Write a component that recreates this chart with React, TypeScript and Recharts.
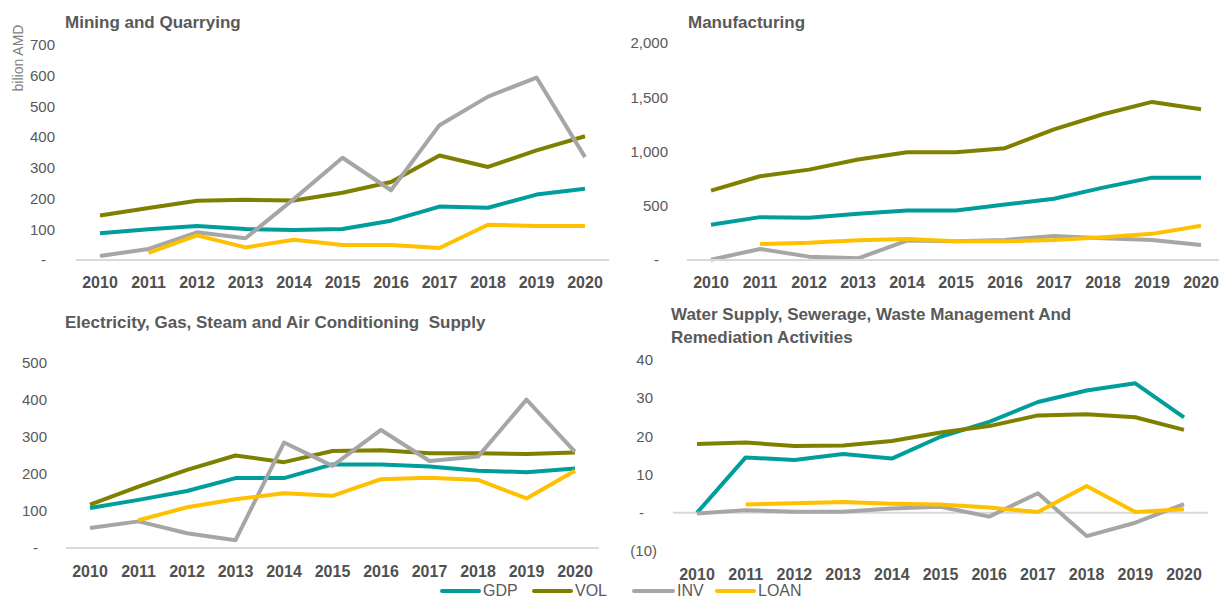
import { LineChart, Line, XAxis, YAxis, ReferenceLine } from "recharts";

// years shared by all four panels
const years = ["2010", "2011", "2012", "2013", "2014", "2015", "2016", "2017", "2018", "2019", "2020"];

// Mining and Quarrying
const miningGdp = [87, 100, 111, 101, 98, 101, 128, 174, 170, 213, 232];
const miningVol = [145, 169, 193, 196, 194, 219, 254, 340, 303, 357, 403];
const miningInv = [13, 36, 90, 71, 199, 333, 227, 439, 532, 594, 335];
const miningLoan = [null, 23, 80, 41, 66, 49, 49, 39, 115, 111, 111];

// Manufacturing
const manufGdp = [324, 395, 389, 426, 457, 457, 512, 565, 667, 759, 759];
const manufVol = [639, 772, 833, 926, 994, 994, 1031, 1204, 1343, 1457, 1389];
const manufInv = [3, 102, 31, 15, 179, 173, 185, 222, 200, 185, 139];
const manufLoan = [null, 148, 160, 182, 194, 173, 173, 185, 210, 241, 315];

// Electricity, Gas, Steam and Air Conditioning Supply
const elecGdp = [108, 130, 154, 189, 189, 226, 226, 220, 209, 205, 215];
const elecVol = [117, 166, 211, 250, 232, 262, 264, 256, 256, 254, 258];
const elecInv = [54, 72, 40, 21, 285, 222, 319, 235, 247, 401, 260];
const elecLoan = [null, 75, 110, 132, 148, 141, 186, 190, 184, 134, 209];

// Water Supply, Sewerage, Waste Management And Remediation Activities
const waterGdp = [0, 14.5, 13.8, 15.4, 14.2, 19.9, 23.8, 29, 32, 33.9, 25];
const waterVol = [18, 18.4, 17.5, 17.6, 18.8, 21, 22.7, 25.5, 25.8, 25, 21.7];
const waterInv = [-0.2, 0.7, 0.3, 0.3, 1.1, 1.6, -1, 5.1, -6.1, -2.6, 2.3];
const waterLoan = [null, 2.2, 2.5, 2.8, 2.4, 2.2, 1.4, 0.2, 7.0, 0.2, 0.9];

const miningTicks = [0, 100, 200, 300, 400, 500, 600, 700];
const manufTicks = [0, 500, 1000, 1500, 2000];
const elecTicks = [0, 100, 200, 300, 400, 500];
const waterTicks = [-10, 0, 10, 20, 30, 40];

const seriesKeys = ["GDP", "VOL", "INV", "LOAN"];
const seriesColors = ["#009E9A", "#808000", "#A6A6A6", "#FFC000"];

const buildRows = (gdp, vol, inv, loan) =>
  years.map((year, i) => ({ year, GDP: gdp[i], VOL: vol[i], INV: inv[i], LOAN: loan[i] }));

const fmt = (v) => v.toLocaleString("en-US");

// excel accounting style: 0 -> "-", negatives in brackets
const AcctTick = ({ x, y, payload, pad }) => {
  const v = payload.value;
  let label = fmt(v);
  let dx = -pad;
  if (v === 0) {
    label = "-";
    dx = -pad - 9;
  } else if (v < 0) {
    label = `(${fmt(-v)})`;
    dx = 0;
  }
  return (
    <text x={x + dx} y={y} dy="0.35em" textAnchor="end" fill="#595959" fontSize={15}>
      {label}
    </text>
  );
};

const panels = [
  {
    title: "Mining and Quarrying",
    rows: buildRows(miningGdp, miningVol, miningInv, miningLoan),
    ticks: miningTicks,
    box: { left: 0, top: 0, width: 620, height: 300 },
    margin: { top: 45, right: 11, bottom: 0, left: 0 },
    yWidth: 76, yGap: 21, pad: 0, xHeight: 40, xGap: 17,
    titlePos: { left: 65, top: 11 },
  },
  {
    title: "Manufacturing",
    rows: buildRows(manufGdp, manufVol, manufInv, manufLoan),
    ticks: manufTicks,
    box: { left: 610, top: 0, width: 620, height: 300 },
    margin: { top: 43, right: 5, bottom: 0, left: 0 },
    yWidth: 77, yGap: 19, pad: 0, xHeight: 40, xGap: 17,
    titlePos: { left: 688, top: 11 },
  },
  {
    title: "Electricity, Gas, Steam and Air Conditioning  Supply",
    rows: buildRows(elecGdp, elecVol, elecInv, elecLoan),
    ticks: elecTicks,
    box: { left: 0, top: 300, width: 620, height: 299 },
    margin: { top: 63, right: 21, bottom: 0, left: 0 },
    yWidth: 66, yGap: 19, pad: 0, xHeight: 51, xGap: 18,
    titlePos: { left: 65, top: 311 },
  },
  {
    title: "Water Supply, Sewerage, Waste Management And\nRemediation Activities",
    rows: buildRows(waterGdp, waterVol, waterInv, waterLoan),
    ticks: waterTicks,
    box: { left: 610, top: 300, width: 609, height: 299 },
    margin: { top: 60, right: 11, bottom: 0, left: 0 },
    yWidth: 63, yGap: 16, pad: 4, xHeight: 48, xGap: 18,
    zeroLine: true,
    titlePos: { left: 671, top: 303 },
  },
];

const legendPos = [
  { line: 440, text: 483 },
  { line: 532, text: 575 },
  { line: 632, text: 677 },
  { line: 715, text: 758 },
];

const Panel = ({ p }) => {
  const min = p.ticks[0];
  const max = p.ticks[p.ticks.length - 1];
  return (
    <div style={{ position: "absolute", ...p.box }}>
      <LineChart width={p.box.width} height={p.box.height} data={p.rows} margin={p.margin}>
        <XAxis
          dataKey="year"
          interval={0}
          padding={{ left: 24, right: 24 }}
          height={p.xHeight}
          tickSize={0}
          tickMargin={p.xGap}
          tickLine={false}
          axisLine={p.zeroLine ? false : { stroke: "#D9D9D9", strokeWidth: 2 }}
          tick={{ fill: "#505050", fontSize: 16, fontWeight: "bold" }}
        />
        <YAxis
          width={p.yWidth}
          domain={[min, max]}
          ticks={p.ticks}
          interval={0}
          axisLine={false}
          tickLine={false}
          tickSize={0}
          tickMargin={p.yGap}
          tick={(props) => <AcctTick {...props} pad={p.pad} />}
        />
        {p.zeroLine && <ReferenceLine y={0} stroke="#D9D9D9" strokeWidth={2} />}
        {seriesKeys.map((key, i) => (
          <Line
            key={key}
            type="linear"
            dataKey={key}
            stroke={seriesColors[i]}
            strokeWidth={4}
            strokeLinejoin="round"
            dot={false}
            activeDot={false}
            isAnimationActive={false}
          />
        ))}
      </LineChart>
    </div>
  );
};

export default function App() {
  return (
    <div
      style={{
        position: "absolute",
        left: 0,
        top: 0,
        width: 1219,
        height: 599,
        overflow: "hidden",
        background: "#fff",
        fontFamily: "'Liberation Sans', Arial, sans-serif",
      }}
    >
      {panels.map((p) => (
        <Panel key={p.title} p={p} />
      ))}
      {panels.map((p) => (
        <div
          key={p.title + "-t"}
          style={{
            position: "absolute",
            ...p.titlePos,
            fontSize: 17,
            fontWeight: "bold",
            lineHeight: "23px",
            color: "#595959",
            whiteSpace: "pre",
          }}
        >
          {p.title}
        </div>
      ))}
      <div
        style={{
          position: "absolute",
          left: -32,
          top: 50,
          width: 100,
          textAlign: "center",
          fontSize: 14,
          lineHeight: "16px",
          color: "#7F7F7F",
          transform: "rotate(-90deg)",
        }}
      >
        bilion AMD
      </div>
      {seriesKeys.map((key, i) => (
        <div key={key}>
          <div
            style={{
              position: "absolute",
              left: legendPos[i].line,
              top: 589,
              width: legendPos[i].text - legendPos[i].line - 2,
              height: 4,
              borderRadius: 2,
              background: seriesColors[i],
            }}
          />
          <div
            style={{
              position: "absolute",
              left: legendPos[i].text,
              top: 582,
              fontSize: 16,
              lineHeight: "17px",
              color: "#595959",
            }}
          >
            {key}
          </div>
        </div>
      ))}
    </div>
  );
}
